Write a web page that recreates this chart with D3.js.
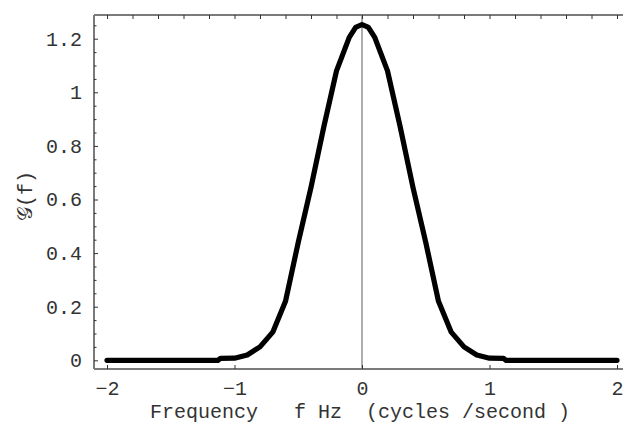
<!DOCTYPE html>
<html>
<head>
<meta charset="utf-8">
<script src="https://cdn.jsdelivr.net/npm/d3@7/dist/d3.min.js"></script>
<style>
html,body{margin:0;padding:0;background:#fff;}
svg{display:block;}
text{font-family:"Liberation Mono","DejaVu Sans Mono",monospace;fill:#333;}
</style>
</head>
<body>
<svg id="chart" width="623" height="428"></svg>
<script>
// Data
const freq = [-2, -1.13, -1.11, -1.0, -0.9, -0.8, -0.7, -0.6, -0.5, -0.4, -0.3, -0.2, -0.1, -0.05, 0,
              0.05, 0.1, 0.2, 0.3, 0.4, 0.5, 0.6, 0.7, 0.8, 0.9, 1.0, 1.11, 1.13, 2];
const gval = [0, 0, 0.007, 0.008, 0.02, 0.05, 0.105, 0.22, 0.44, 0.645, 0.87, 1.08, 1.205, 1.242, 1.253,
              1.242, 1.205, 1.08, 0.87, 0.645, 0.44, 0.22, 0.105, 0.05, 0.02, 0.008, 0.007, 0, 0];
const xTicks = [-2, -1, 0, 1, 2];
const yTicks = [0, 0.2, 0.4, 0.6, 0.8, 1, 1.2];
const xLabel = "Frequency   f Hz  (cycles /second )";
const yLabel = "\u{1D4A2}(f)";

const svg = d3.select("#chart");
const fL = 94, fR = 640, fT = 15, fB = 369;
const x = d3.scaleLinear().domain([-2, 2]).range([107, 617]);
const y = d3.scaleLinear().domain([0, 1.2]).range([360.3, 38.7]);

const axisColor = "#7a7a7a";

// vertical axis at x=0
svg.append("line").attr("x1", x(0)).attr("x2", x(0)).attr("y1", fT).attr("y2", fB)
  .attr("stroke", "#777").attr("stroke-width", 1.2);

// curve
const line = d3.line().x((d, i) => x(freq[i])).y(d => y(d));
svg.append("path").datum(gval).attr("d", line)
  .attr("fill", "none").attr("stroke", "#000").attr("stroke-width", 5.2)
  .attr("stroke-linejoin", "round").attr("stroke-linecap", "round");

// frame lines
svg.append("line").attr("x1", fL).attr("x2", fR).attr("y1", fT).attr("y2", fT)
  .attr("stroke", axisColor).attr("stroke-width", 2);
svg.append("line").attr("x1", fL).attr("x2", fR).attr("y1", fB).attr("y2", fB)
  .attr("stroke", axisColor).attr("stroke-width", 2);
svg.append("line").attr("x1", fL).attr("x2", fL).attr("y1", fT).attr("y2", fB)
  .attr("stroke", axisColor).attr("stroke-width", 2);

// bottom axis (major ticks only, inward)
const bottomAxis = d3.axisBottom(x).tickValues(xTicks).tickSize(-4).tickPadding(12)
  .tickFormat(d => d < 0 ? "\u2212" + Math.abs(d) : d);
const gB = svg.append("g").attr("transform", `translate(0,${fB})`).call(bottomAxis);
gB.select(".domain").remove();
gB.selectAll(".tick line").attr("stroke", "#333");
gB.selectAll(".tick text").attr("font-size", 20).style("font-family", '"Liberation Mono",monospace').attr("fill", "#333");

// top axis ticks every 0.2
const topTicks = d3.range(-2, 2.0001, 0.2).map(v => Math.round(v * 10) / 10);
const topAxis = d3.axisTop(x).tickValues(topTicks).tickSize(-4).tickFormat("");
const gT = svg.append("g").attr("transform", `translate(0,${fT})`).call(topAxis);
gT.select(".domain").remove();
gT.selectAll(".tick line").attr("stroke", "#333");

// left axis major
const leftAxis = d3.axisLeft(y).tickValues(yTicks).tickSize(-4).tickPadding(12)
  .tickFormat(d => d === 0 ? "0" : d3.format("")(d));
const gL = svg.append("g").attr("transform", `translate(${fL},0)`).call(leftAxis);
gL.select(".domain").remove();
gL.selectAll(".tick line").attr("stroke", "#333");
gL.selectAll(".tick text").attr("font-size", 20).style("font-family", '"Liberation Mono",monospace').attr("fill", "#333");

// left minor ticks
const minor = d3.range(0, 1.29, 0.05).map(v => Math.round(v * 100) / 100)
  .filter(v => Math.round(v * 100) % 20 !== 0);
const gM = svg.append("g").attr("transform", `translate(${fL},0)`)
  .call(d3.axisLeft(y).tickValues(minor).tickSize(-2.5).tickFormat(""));
gM.select(".domain").remove();
gM.selectAll(".tick line").attr("stroke", "#333");

// x label
svg.append("text").attr("x", 360).attr("y", 418).attr("text-anchor", "middle")
  .attr("font-size", 20).attr("xml:space", "preserve").style("white-space", "pre").text(xLabel);

// y label
svg.append("text").attr("transform", "translate(32,196) rotate(-90)")
  .attr("text-anchor", "middle").attr("font-size", 20).text(yLabel);
</script>
</body>
</html>
